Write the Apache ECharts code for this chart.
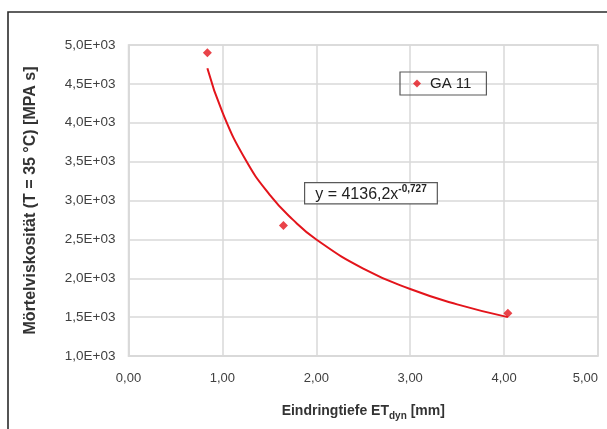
<!DOCTYPE html>
<html>
<head>
<meta charset="utf-8">
<script src="https://cdn.jsdelivr.net/npm/echarts@6/dist/echarts.min.js"></script>
<style>html,body{margin:0;padding:0;background:#fff}#c{width:607px;height:429px}</style>
</head>
<body>
<div id="c"></div>
<script>
// Measured points (Eindringtiefe ET_dyn [mm], Mörtelviskosität [MPa s])
const pointX = [0.84, 1.65, 4.04];
const pointY = [4900, 2680, 1550];
// Trendline (power fit y = 4136,2x^-0,727)
const trendX = [0.84, 1.0, 1.25, 1.5, 1.75, 2.0, 2.5, 3.0, 3.5, 4.04];
const trendY = [4700, 4136, 3517, 3080, 2754, 2499, 2125, 1861, 1664, 1500];
const xTickLabels = ['0,00', '1,00', '2,00', '3,00', '4,00', '5,00'];
const yTickLabels = ['1,0E+03', '1,5E+03', '2,0E+03', '2,5E+03', '3,0E+03', '3,5E+03', '4,0E+03', '4,5E+03', '5,0E+03'];
const seriesName = 'GA 11';

const chart = echarts.init(document.getElementById('c'));
const font = 'Liberation Sans, Arial, sans-serif';
chart.setOption({
  backgroundColor: '#fff',
  animation: false,
  textStyle: { fontFamily: font },
  grid: { left: 128.5, right: 9, top: 45, bottom: 73, show: true, borderColor: '#d9d9d9', borderWidth: 1.5 },
  legend: {
    left: 400, top: 72,
    data: [{ name: seriesName, icon: 'diamond' }],
    itemWidth: 8, itemHeight: 8, itemGap: 12,
    padding: [4, 15, 4, 13],
    borderColor: '#595959', borderWidth: 1.2, borderRadius: 0,
    textStyle: { fontFamily: font, fontSize: 15, color: '#222', padding: [0, 0, 0, 4] }
  },
  xAxis: {
    type: 'value', min: 0, max: 5, interval: 1,
    axisLine: { show: true, lineStyle: { color: '#d9d9d9', width: 1.5 } },
    axisTick: { show: false },
    splitLine: { show: true, lineStyle: { color: '#d9d9d9', width: 1.5 } },
    axisLabel: {
      fontFamily: font, fontSize: 13, color: '#404040', margin: 16, alignMaxLabel: 'right',
      formatter: (v) => xTickLabels[Math.round(v)]
    },
    name: '{m|Eindringtiefe ET}{s|dyn}{m| [mm]}',
    nameLocation: 'middle', nameGap: 45,
    nameTextStyle: {
      rich: {
        m: { fontFamily: font, fontSize: 14, fontWeight: 'bold', color: '#333', lineHeight: 20, verticalAlign: 'middle' },
        s: { fontFamily: font, fontSize: 10, fontWeight: 'bold', color: '#333', lineHeight: 9, verticalAlign: 'bottom' }
      }
    }
  },
  yAxis: {
    type: 'value', min: 1000, max: 5000, interval: 500,
    axisLine: { show: true, lineStyle: { color: '#d9d9d9', width: 1.5 } },
    axisTick: { show: false },
    splitLine: { show: true, lineStyle: { color: '#d9d9d9', width: 1.5 } },
    axisLabel: {
      fontFamily: font, fontSize: 13.5, color: '#404040', margin: 13,
      formatter: (v) => yTickLabels[Math.round((v - 1000) / 500)]
    },
    name: 'Mörtelviskosität (T = 35 °C) [MPA s]',
    nameLocation: 'middle', nameGap: 90, nameRotate: 90,
    nameTextStyle: { fontFamily: font, fontSize: 16, fontWeight: 'bold', color: '#333' }
  },
  series: [
    {
      name: 'Trend', type: 'line', smooth: true, symbol: 'none',
      data: trendX.map((x, i) => [x, trendY[i]]),
      lineStyle: { color: '#e3141b', width: 2 }, z: 2
    },
    {
      name: seriesName, type: 'scatter', symbol: 'diamond', symbolSize: 9,
      data: pointX.map((x, i) => [x, pointY[i]]),
      itemStyle: { color: '#e3141b' }, z: 3
    }
  ],
  graphic: [
    {
      type: 'rect', shape: { x: 8, y: 12, width: 700, height: 500 },
      style: { fill: 'none', stroke: '#2b2b2b', lineWidth: 1.6 }, silent: true, z: 100
    },
    {
      type: 'text', left: 304, top: 182, z: 50,
      style: {
        text: '{m|y = 4136,2x}{p|-0,727}',
        backgroundColor: '#fff', borderColor: '#595959', borderWidth: 1.2,
        padding: [1, 10, 1, 10],
        rich: {
          m: { fontFamily: font, fontSize: 16, fill: '#222', lineHeight: 18, verticalAlign: 'bottom' },
          p: { fontFamily: font, fontSize: 10, fontWeight: 'bold', fill: '#222', lineHeight: 18, verticalAlign: 'top' }
        }
      }
    }
  ]
});
</script>
</body>
</html>
